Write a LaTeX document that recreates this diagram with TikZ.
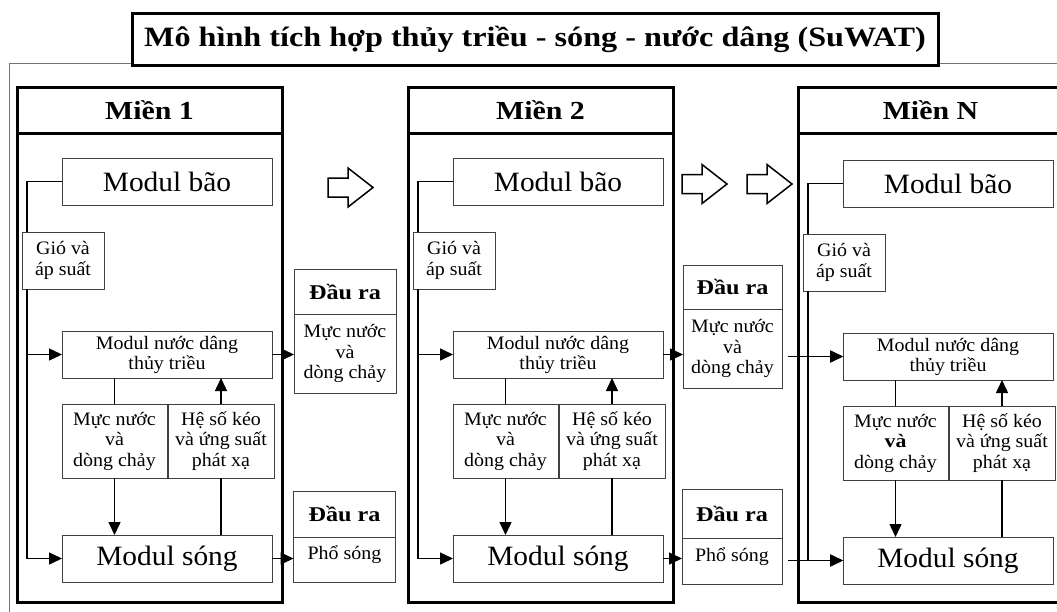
\documentclass[tikz,border=0pt]{standalone}
\usepackage{fontspec}
\setmainfont{Liberation Serif}[FakeStretch=1.05, BoldFeatures={FakeStretch=1.15}]
\usetikzlibrary{arrows.meta,calc}

\begin{document}
\begin{tikzpicture}
[
 x=1pt, y=-1pt,
 inner sep=0pt, outer sep=0pt,
 FRAME/.style={draw=black!55, line width=1pt},
 TITLE/.style={rectangle, draw=black, line width=3pt, fill=white, minimum width=806pt, minimum height=52pt, font=\fontsize{28}{30}\selectfont\bfseries},
 ZONE/.style={rectangle, draw=black, line width=3pt, minimum width=265pt, minimum height=469pt},
 ZHEAD/.style={rectangle, draw=black, line width=3pt, minimum width=265pt, minimum height=46pt, font=\fontsize{26}{28}\selectfont\bfseries},
 MODBIG/.style={rectangle, draw=black!75, line width=0.9pt, minimum width=210pt, minimum height=47pt, font=\fontsize{28}{30}\selectfont},
 MODMID/.style={MODBIG, align=center, font=\fontsize{19}{20}\selectfont},
 SMALL/.style={rectangle, draw=black!75, line width=0.9pt, align=center, font=\fontsize{19}{20.5}\selectfont},
 OUTH/.style={rectangle, draw=black!75, line width=0.9pt, minimum width=102pt, font=\fontsize{21}{22}\selectfont\bfseries},
 OUTB/.style={rectangle, draw=black!75, line width=0.9pt, minimum width=102pt, align=center, font=\fontsize{19}{20.5}\selectfont},
 HOLLOW/.style={draw=black, line width=1.5pt, fill=white, line join=miter},
 LINK/.style={line width=1.5pt},
 ARR/.style={line width=1.5pt, -{Triangle[length=13pt,width=12pt]}},
 ]
%
\useasboundingbox (0,0) rectangle (1057,611);
\draw [FRAME] (9,630) -- (9,63) -- (1080,63);
\node [TITLE] (title) at (535,39) {Mô hình tích hợp thủy triều - sóng - nước dâng (SuWAT)};
%
\foreach \i/\dx/\dy/\va in {1/0/0/{và}, 2/391/0/{và}, N/781/2/{\textbf{và}}}
   {
    \node [ZONE]  (zone\i) at (149.5+\dx, 367.5) {};
    \node [ZHEAD] (head\i) at (149.5+\dx, 110)   {Miền \i};
    %
    \node [MODBIG] (bao\i)  at (167+\dx, 181.5+\dy) {Modul bão};
    \node [SMALL, minimum width=82pt, minimum height=57pt] (gio\i) at (63+\dx, 260.5+\dy) {Gió và\\áp suất};
    \node [MODMID] (nd\i)   at (167+\dx, 354.5+\dy) {Modul nước dâng\\thủy triều};
    \node [SMALL, minimum width=105pt, minimum height=74pt] (mn\i) at (114.5+\dx, 441+\dy) {Mực nước\\\va\\dòng chảy};
    \node [SMALL, minimum width=106pt, minimum height=74pt] (hs\i) at (221+\dx, 441+\dy) {Hệ số kéo\\và ứng suất\\phát xạ};
    \node [MODBIG] (song\i) at (167+\dx, 558.5+\dy) {Modul sóng};
    %
    \coordinate (sp\i) at (27+\dx, 0);
    \draw [LINK] (bao\i.west) -| (sp\i |- gio\i.north);
    \draw [ARR]  (sp\i |- gio\i.south) |- (song\i.west);
    \draw [ARR]  (sp\i |- nd\i.west) -- (nd\i.west);
    \draw [LINK] (nd\i.south -| mn\i.north) -- (mn\i.north);
    \draw [ARR]  (hs\i.north) -- (hs\i.north |- nd\i.south);
    \draw [ARR]  (mn\i.south) -- (mn\i.south |- song\i.north);
    \draw [LINK] (song\i.north -| hs\i.south) -- (hs\i.south);
   }
%
\node [OUTH, minimum height=45pt] (out1h) at (345,291.5) {Đầu ra};
\node [OUTB, minimum height=79pt] (out1b) at (345,353.5) {Mực nước\\và\\dòng chảy};
\node [OUTH, minimum height=46pt] (out2h) at (344.5,514) {Đầu ra};
\node [OUTB, minimum height=45pt, text height=14pt, text depth=14pt] (out2b) at (344.5,559.5) {Phổ sóng};
%
\node [OUTH, minimum width=99pt, minimum height=44pt] (out3h) at (732.5,287) {Đầu ra};
\node [OUTB, minimum width=99pt, minimum height=79pt] (out3b) at (732.5,348.5) {Mực nước\\và\\dòng chảy};
\node [OUTH, minimum width=100pt, minimum height=49pt] (out4h) at (732,513.5) {Đầu ra};
\node [OUTB, minimum width=100pt, minimum height=46pt, text height=14pt, text depth=14pt] (out4b) at (732,561) {Phổ sóng};
%
\draw [ARR]  (nd1.east) -- (nd1.east -| out1b.west);
\draw [ARR]  (song1.east) -- (song1.east -| out2b.west);
\draw [ARR]  (nd2.east) -- (nd2.east -| out3b.west);
\draw [ARR]  (song2.east) -- (song2.east -| out4b.west);
\draw [ARR]  ($(out3b.east |- ndN.west)+(6,0)$) -- (ndN.west);
\draw [ARR]  ($(out4b.east |- songN.west)+(6,0)$) -- (songN.west);
%
\foreach \ax/\ay in {328/187.5, 682/184, 747/184}
   {
    \draw [HOLLOW] (\ax,\ay-9.5) -- ++(20,0) -- ++(0,-10) -- ++(25,19.5)
                   -- ++(-25,19.5) -- ++(0,-10) -- ++(-20,0) -- cycle;
   }
%
\end{tikzpicture}
\end{document}
